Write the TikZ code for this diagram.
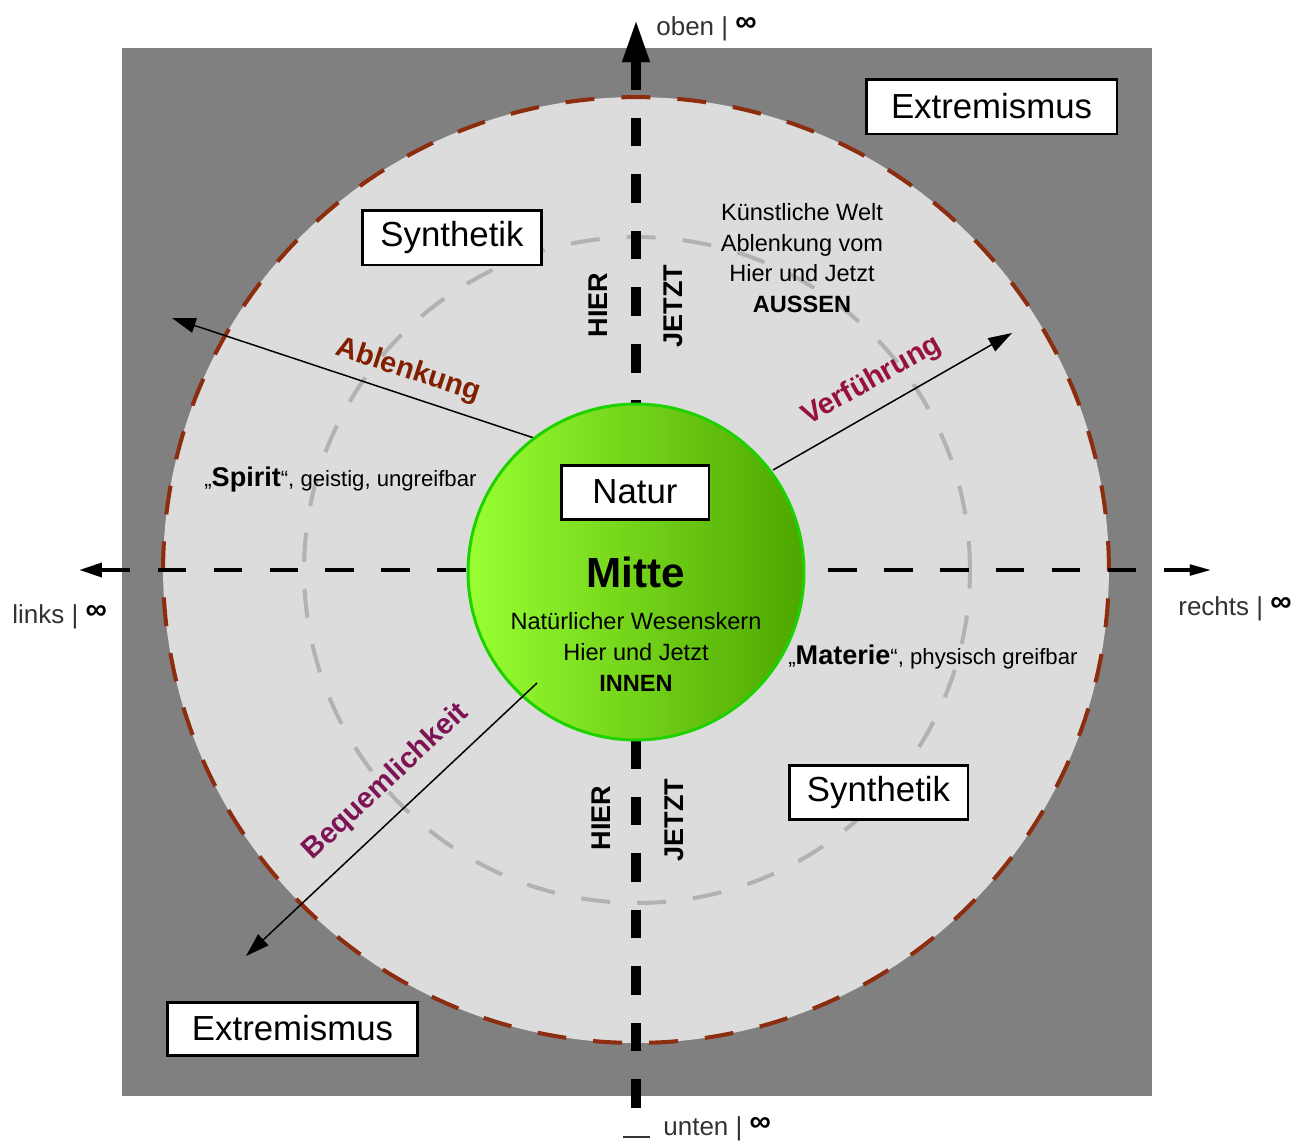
\documentclass[tikz,border=0pt]{standalone}
\usepackage{fontspec}
\setmainfont{Liberation Sans}
\usetikzlibrary{arrows.meta}
\definecolor{sq}{RGB}{128,128,128}
\definecolor{disc}{RGB}{220,220,220}
\definecolor{rimred}{RGB}{140,45,15}
\definecolor{ringgray}{RGB}{178,178,178}
\definecolor{gleft}{RGB}{153,255,51}
\definecolor{gright}{RGB}{77,166,0}
\definecolor{gborder}{RGB}{30,210,0}
\definecolor{labA}{RGB}{128,32,0}
\definecolor{labV}{RGB}{150,16,64}
\definecolor{labB}{RGB}{125,20,85}
\definecolor{axtext}{RGB}{50,50,50}
\newcommand{\infsym}{\raisebox{0.15em}{\textcolor{black}{\fontsize{17}{18}\selectfont\bfseries ∞}}}
\begin{document}
\begin{tikzpicture}[x=0.02cm,y=-0.02cm,
  boxnode/.style={draw=black,line width=1.7pt,fill=white,inner sep=0pt,font=\fontsize{19.8}{24}\selectfont},
  axlabel/.style={anchor=base west,inner sep=0pt,text=axtext,font=\fontsize{14.8}{18}\selectfont},
  hjlabel/.style={rotate=90,inner sep=0pt,font=\bfseries\fontsize{15.4}{18}\selectfont},
  diaglabel/.style={inner sep=0pt,font=\bfseries\fontsize{16.5}{20}\selectfont},
  thinarrow/.style={line width=0.85pt,-{Triangle[length=13.5pt,width=8.5pt]}},
  bodytext/.style={align=center,inner sep=0pt,font=\fontsize{13.4}{17.5}\selectfont},
  sidetext/.style={anchor=base west,inner sep=0pt,font=\fontsize{12.6}{15}\selectfont},
]
\useasboundingbox (0,0) rectangle (1297,1140);
% background square
\node[fill=sq,minimum width=20.6cm,minimum height=20.96cm,inner sep=0pt,anchor=north west] (square) at (122,48) {};
% outer disc
\node[circle,fill=disc,draw=rimred,line width=2.3pt,dash pattern=on 16.5pt off 15.4pt,minimum size=18.92cm,inner sep=0pt] (outer) at (636,570) {};
% inner dashed ring
\node[circle,draw=ringgray,line width=2.3pt,dash pattern=on 16.5pt off 15.4pt,minimum size=13.32cm,inner sep=0pt] (ring) at (637,570) {};
% axes
\coordinate (top) at (636,22);
\coordinate (bottom) at (636,1108);
\coordinate (left) at (80,570);
\coordinate (right) at (1210,570);
\draw[line width=2.3pt,dash pattern=on 16.2pt off 15.6pt,
  {Triangle[length=12.5pt,width=8.5pt,line width=0.01pt]}-{Triangle[length=11.4pt,width=6.5pt,line width=0.01pt]}] (left) -- (right);
\draw[line width=5.7pt,dash pattern=on 16.3pt off 15.9pt,
  -{Triangle[length=22.8pt,width=16pt,line width=0.01pt]}] (bottom) -- (top);
% diagonal arrows
\coordinate (ablS) at (537,439); \coordinate (ablT) at (172,318);
\coordinate (verS) at (773,470); \coordinate (verT) at (1012,333);
\coordinate (beqS) at (537,683); \coordinate (beqT) at (246,956);
\draw[thinarrow] (ablS) -- (ablT);
\draw[thinarrow] (verS) -- (verT);
% green centre
\node[circle,draw=gborder,line width=1.7pt,left color=gleft,right color=gright,minimum size=6.72cm,inner sep=0pt] (mitte) at (636,572) {};
\draw[thinarrow] (beqS) -- (beqT);
% boxes
\node[boxnode,minimum width=5.02cm,minimum height=1.1cm] (extr1) at (991.5,106.5) {Extremismus};
\node[boxnode,minimum width=3.6cm,minimum height=1.1cm] (syn1) at (452,237.5) {Synthetik};
\node[boxnode,minimum width=2.96cm,minimum height=1.08cm] (natur) at (635,492) {Natur};
\node[boxnode,minimum width=3.58cm,minimum height=1.08cm] (syn2) at (878.5,792) {Synthetik};
\node[boxnode,minimum width=5.02cm,minimum height=1.06cm] (extr2) at (292.5,1028.5) {Extremismus};
% centre texts
\node[inner sep=0pt,font=\bfseries\fontsize{24}{28}\selectfont] (mittetxt) at (636,572) {Mitte};
\node[bodytext] (innen) at (636,652) {Natürlicher Wesenskern\\Hier und Jetzt\\\textbf{INNEN}};
\node[bodytext] (aussen) at (802,258) {Künstliche Welt\\Ablenkung vom\\Hier und Jetzt\\\textbf{AUSSEN}};
% side texts
\node[sidetext] (spirit) at (204,486) {„{\bfseries\fontsize{15.4}{18}\selectfont Spirit}“, geistig, ungreifbar};
\node[sidetext] (materie) at (788,664) {„{\bfseries\fontsize{15.4}{18}\selectfont Materie}“, physisch greifbar};
% HIER / JETZT
\node[hjlabel] (hier1) at (598,305) {HIER};
\node[hjlabel] (jetzt1) at (673,306) {JETZT};
\node[hjlabel] (hier2) at (601,818) {HIER};
\node[hjlabel] (jetzt2) at (674,820) {JETZT};
% diagonal labels
\node[diaglabel,text=labA,rotate=-18] (ablLab) at (408,371) {Ablenkung};
\node[diaglabel,text=labV,rotate=29.5] (verLab) at (872,381) {Verführung};
\node[diaglabel,text=labB,rotate=43] (beqLab) at (386,782) {Bequemlichkeit};
% axis labels
\node[axlabel] (oben) at (656,35) {oben | \infsym};
\node[axlabel] (links) at (12,623) {links | \infsym};
\node[axlabel] (rechts) at (1178,615) {rechts | \infsym};
\node[axlabel] (unten) at (663,1135) {unten | \infsym};
\coordinate (usA) at (623,1137); \coordinate (usB) at (650,1137);
\draw[line width=1.2pt,color=axtext] (usA) -- (usB);
\end{tikzpicture}
\end{document}
